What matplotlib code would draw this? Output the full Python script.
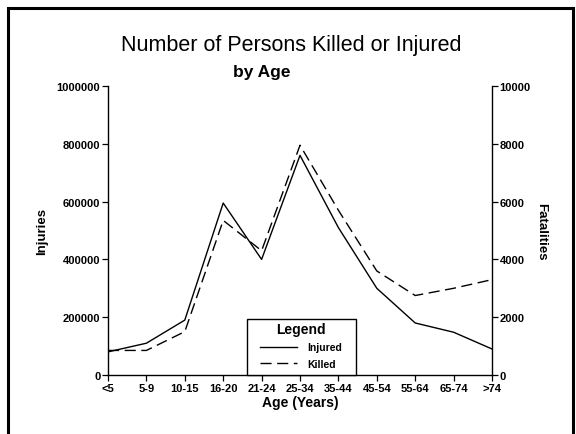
import matplotlib
matplotlib.use("Agg")
import matplotlib.pyplot as plt
from matplotlib.patches import Rectangle

plt.rcParams['font.family'] = ['Liberation Sans', 'DejaVu Sans']

# data
ages = ["<5", "5-9", "10-15", "16-20", "21-24", "25-34", "35-44", "45-54", "55-64", "65-74", ">74"]
injured = [80000, 110000, 190000, 595000, 400000, 760000, 510000, 300000, 180000, 148000, 90000]
killed = [850, 850, 1500, 5350, 4300, 7950, 5700, 3600, 2750, 3000, 3300]
inj_ticks = [0, 200000, 400000, 600000, 800000, 1000000]
kil_ticks = [0, 2000, 4000, 6000, 8000, 10000]

fig = plt.figure(figsize=(5.76, 4.35), dpi=100)
ax = fig.add_axes([108/576, 1-376/435, 384/576, 289/435])
ax2 = ax.twinx()

x = list(range(len(ages)))
l1, = ax.plot(x, injured, color="black", lw=1.0, label="Injured")
l2, = ax2.plot(x, killed, color="black", lw=1.0, dashes=(8, 4), label="Killed")

ax.set_xlim(0, len(ages)-1)
ax.set_ylim(0, 1000000)
ax2.set_ylim(0, 10000)
ax.set_xticks(x)
ax.set_xticklabels(ages, fontsize=8, fontweight="bold")
ax.set_yticks(inj_ticks)
ax.set_yticklabels([str(v) for v in inj_ticks], fontsize=8, fontweight="bold")
ax2.set_yticks(kil_ticks)
ax2.set_yticklabels([str(v) for v in kil_ticks], fontsize=8, fontweight="bold")

for a in (ax, ax2):
    a.spines["top"].set_visible(False)
    for s in a.spines.values():
        s.set_linewidth(1.0)
    a.tick_params(length=4, width=0.9, pad=1.5)
ax.spines["right"].set_visible(False)
ax2.spines["left"].set_visible(False)
ax2.spines["bottom"].set_visible(False)

ax.set_xlabel("Age (Years)", fontsize=10, fontweight="bold", labelpad=2)
ax.set_ylabel("Injuries", fontsize=9.5, fontweight="bold", labelpad=6)
ax2.set_ylabel("Fatalities", fontsize=9.5, fontweight="bold", rotation=-90, labelpad=12)

# legend box drawn by hand, contents centred inside it
box = Rectangle((0.362, 0.0), 0.283, 0.194, transform=ax2.transAxes, facecolor="white",
                edgecolor="black", lw=1.0, zorder=4, clip_on=False)
ax2.add_patch(box)
leg = ax2.legend([l1, l2], ["Injured", "Killed"], title="Legend", loc="upper center",
                 bbox_to_anchor=(0.5035, 0.194), borderaxespad=0, borderpad=0.3,
                 frameon=False, prop={"size": 7.5, "weight": "bold"}, handlelength=3.5,
                 handletextpad=1.0, labelspacing=0.6)
leg.get_title().set_fontsize(10)
leg.get_title().set_fontweight("bold")
leg.set_zorder(5)

fig.text(0.505, 1-45/435, "Number of Persons Killed or Injured", ha="center", va="center", fontsize=15.5)
fig.text(0.455, 1-73/435, "by Age", ha="center", va="center", fontsize=12.5, fontweight="bold")

fig.patches.append(Rectangle((8/576, -0.1), 565/576, 1.1-9/435, transform=fig.transFigure,
                             fill=False, lw=2.2, edgecolor="black"))

fig.savefig("out.png", dpi=100)
